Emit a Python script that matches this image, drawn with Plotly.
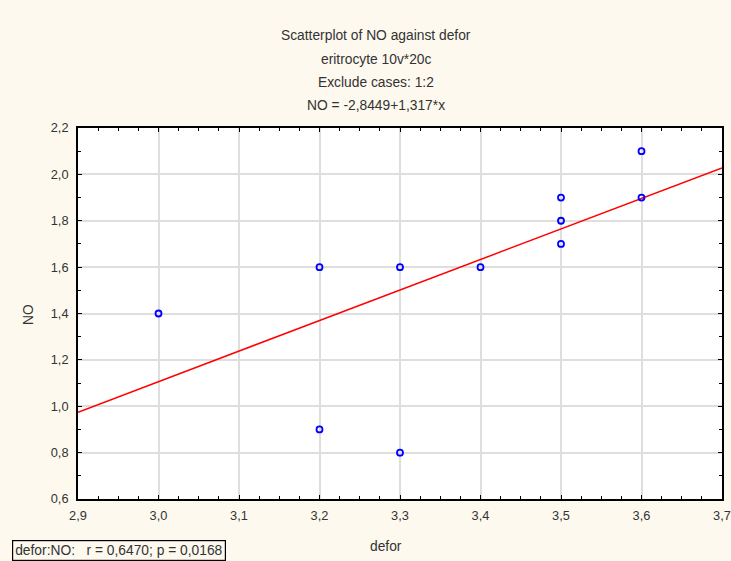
import plotly.graph_objects as go

defor = [3.0, 3.2, 3.2, 3.3, 3.3, 3.4, 3.5, 3.5, 3.5, 3.6, 3.6]
no_vals = [1.4, 1.6, 0.9, 1.6, 0.8, 1.6, 1.9, 1.8, 1.7, 2.1, 1.9]
intercept = -2.8449
slope = 1.317
line_x = [2.9, 3.7]
line_y = [intercept + slope * x for x in line_x]

title_lines = ["Scatterplot of NO against defor", "eritrocyte 10v*20c",
               "Exclude cases: 1:2", "NO = -2,8449+1,317*x"]
stats_text = "defor:NO:   r = 0,6470; p = 0,0168"
x_title = "defor"
y_title = "NO"

FONT = "Liberation Sans, Arial, sans-serif"
TXT = "#333333"
FS = 13.8
L, R, T, B = 78, 9, 128, 62
W, H = 731, 561
PW, PH = W - L - R, H - T - B

fig = go.Figure()
fig.add_trace(go.Scatter(x=line_x, y=line_y, mode="lines",
                         line=dict(color="#ff0000", width=1.5), showlegend=False))
fig.add_trace(go.Scatter(x=defor, y=no_vals, mode="markers",
                         marker=dict(symbol="circle-open", size=6, color="#0000ff",
                                     line=dict(width=1.8, color="#0000ff")),
                         showlegend=False))

title_y = [35, 59, 82, 105]
for t, yy in zip(title_lines, title_y):
    fig.add_annotation(text=t, xref="paper", yref="paper", x=(376 - L) / PW, y=1.0,
                       yanchor="middle", xanchor="center", showarrow=False,
                       yshift=T - yy,
                       font=dict(family=FONT, size=FS, color=TXT))

fig.add_annotation(text=stats_text, xref="paper", yref="paper", x=0, y=0,
                   xanchor="left", yanchor="top", xshift=12 - L, yshift=-(540 - (H - B)),
                   showarrow=False,
                   bordercolor="#000000", borderwidth=1.2, borderpad=2,
                   bgcolor="#fdf9ee",
                   font=dict(family=FONT, size=FS, color=TXT))

fig.add_annotation(text=x_title, xref="paper", yref="paper", x=(386 - L) / PW, y=0,
                   xanchor="center", yanchor="middle", yshift=-(546 - (H - B)),
                   showarrow=False, font=dict(family=FONT, size=FS, color=TXT))
fig.add_annotation(text=y_title, xref="paper", yref="paper", x=0, y=(H - B - 315) / PH,
                   xanchor="center", yanchor="middle", xshift=28 - L, textangle=-90,
                   showarrow=False, font=dict(family=FONT, size=FS, color=TXT))

fig.update_layout(
    width=W, height=H,
    margin=dict(l=L, r=R, t=T, b=B),
    paper_bgcolor="#fdf9ee", plot_bgcolor="#ffffff",
    separators=", ",
    font=dict(family=FONT, size=12.8, color=TXT),
    xaxis=dict(range=[2.9, 3.7], tick0=2.9, dtick=0.1, tickformat=".1f",
               automargin=False, ticklabelstandoff=4,
               showgrid=True, gridcolor="#dedede", gridwidth=1.8,
               zeroline=False, showline=True, linecolor="#000000", linewidth=1.8,
               mirror="ticks", ticks="inside", ticklen=4, tickcolor="#000000",
               minor=dict(dtick=0.025, tick0=2.9, ticks="inside", ticklen=3,
                          tickcolor="#000000", showgrid=False)),
    yaxis=dict(range=[0.6, 2.2], tick0=0.6, dtick=0.2, tickformat=".1f",
               automargin=False, ticklabelstandoff=5,
               showgrid=True, gridcolor="#dedede", gridwidth=1.8,
               zeroline=False, showline=True, linecolor="#000000", linewidth=1.8,
               mirror="ticks", ticks="inside", ticklen=4, tickcolor="#000000",
               minor=dict(dtick=0.1, ticks="inside", ticklen=3, tickcolor="#000000",
                          showgrid=False)),
)

fig.write_html("out.html")
